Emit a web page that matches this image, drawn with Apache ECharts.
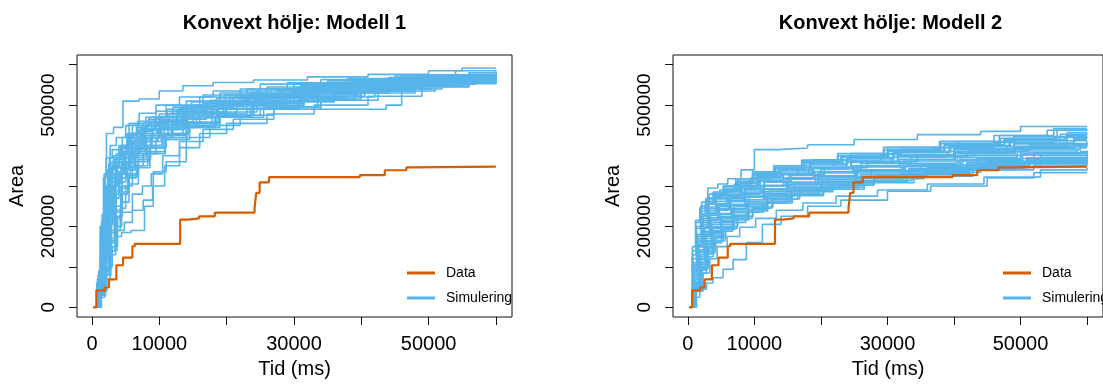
<!DOCTYPE html>
<html>
<head>
<meta charset="utf-8">
<script src="https://cdn.jsdelivr.net/npm/echarts@6/dist/echarts.min.js"></script>
<style>
  html, body { margin: 0; padding: 0; background: #fff; }
  #chart { width: 1103px; height: 385px; }
</style>
</head>
<body>
<div id="chart"></div>
<script>
// Observed convex-hull area over time, [time ms, area]
const observed = [
  [165, 0], [650, 42e3], [1890, 49e3], [2530, 69e3], [3620, 104e3], [4610, 123e3],
  [6000, 151e3], [6350, 157e3], [13100, 217e3], [14270, 220e3], [15900, 225e3],
  [18240, 234e3], [24150, 246e3], [24400, 283e3], [24900, 309e3], [26300, 322e3],
  [39800, 327e3], [43500, 339e3], [46700, 346e3], [47950, 348e3], [60000, 348e3]
];

// Simulated runs, model 1
const sims1 = [
  [[300,0],[800,45e3],[1300,180e3],[1800,330e3],[2150,430e3],[3200,445e3],[4600,510e3],[7000,515e3],[10000,535e3],[13500,548e3],[18000,556e3],[24000,562e3],[32000,570e3],[41000,576e3],[50000,585e3],[55000,592e3],[60000,592e3]],
  [[250,0],[900,60e3],[1500,150e3],[2100,260e3],[2700,360e3],[3600,380e3],[5200,430e3],[6800,460e3],[9500,485e3],[14000,510e3],[19000,530e3],[26000,545e3],[35000,560e3],[44000,568e3],[52000,575e3],[60000,575e3]],
  [[400,0],[1000,40e3],[1700,120e3],[2300,210e3],[3000,300e3],[3800,350e3],[5000,400e3],[7500,440e3],[10500,470e3],[15000,495e3],[21000,520e3],[28000,540e3],[36000,555e3],[47000,566e3],[56000,580e3],[60000,580e3]],
  [[350,0],[1100,70e3],[1600,190e3],[2000,290e3],[2600,370e3],[4200,395e3],[5500,455e3],[8000,470e3],[11000,500e3],[16500,525e3],[23000,540e3],[30000,555e3],[38000,565e3],[46000,572e3],[60000,578e3]],
  [[500,0],[1200,30e3],[2000,80e3],[2800,140e3],[3700,175e3],[4400,185e3],[5800,190e3],[7800,250e3],[9100,335e3],[11000,360e3],[14000,420e3],[17500,450e3],[22000,475e3],[27000,495e3],[34000,515e3],[40000,535e3],[48000,555e3],[55000,565e3],[60000,565e3]],
  [[300,0],[900,50e3],[1400,140e3],[2000,240e3],[2800,320e3],[3500,330e3],[4800,380e3],[6500,420e3],[9000,450e3],[12500,480e3],[17000,505e3],[24000,525e3],[31000,550e3],[39000,565e3],[49000,575e3],[60000,582e3]],
  [[450,0],[1000,35e3],[1600,100e3],[2400,170e3],[3300,240e3],[4300,300e3],[5300,345e3],[6500,380e3],[8000,400e3],[10500,430e3],[14500,455e3],[19000,475e3],[25000,490e3],[43700,500e3],[46000,540e3],[52000,560e3],[60000,565e3]],
  [[200,0],[700,60e3],[1200,200e3],[1700,320e3],[2100,370e3],[3000,390e3],[4500,420e3],[6000,450e3],[8500,470e3],[12000,495e3],[16000,520e3],[22000,540e3],[29000,555e3],[38000,566e3],[50000,575e3],[60000,580e3]],
  [[600,0],[1300,45e3],[2100,130e3],[2900,210e3],[3600,280e3],[4500,330e3],[5700,380e3],[7200,410e3],[9800,440e3],[13500,470e3],[18500,500e3],[24500,520e3],[31500,540e3],[40000,556e3],[51000,568e3],[60000,572e3]],
  [[350,0],[1000,90e3],[1500,230e3],[2000,330e3],[2700,400e3],[3600,420e3],[5000,450e3],[7000,480e3],[9500,500e3],[13000,520e3],[18000,535e3],[25000,552e3],[34000,563e3],[45000,572e3],[54000,585e3],[60000,588e3]],
  [[500,0],[1100,25e3],[1900,70e3],[2700,130e3],[3500,190e3],[4200,245e3],[5000,300e3],[6000,350e3],[7600,380e3],[9500,420e3],[12000,445e3],[15500,470e3],[20000,490e3],[27000,508e3],[36000,530e3],[44000,548e3],[53000,560e3],[60000,562e3]],
  [[300,0],[800,70e3],[1300,170e3],[1900,270e3],[2500,350e3],[3400,370e3],[4600,400e3],[6200,430e3],[8200,455e3],[11500,480e3],[15000,500e3],[20500,518e3],[27500,535e3],[35500,550e3],[43000,562e3],[51000,570e3],[60000,575e3]],
  [[250,0],[900,80e3],[1400,210e3],[1900,300e3],[2400,340e3],[3300,355e3],[4100,385e3],[5400,410e3],[7300,440e3],[10000,460e3],[13800,482e3],[19500,505e3],[26000,525e3],[33000,545e3],[42500,558e3],[52000,567e3],[60000,570e3]],
  [[550,0],[1300,60e3],[2000,150e3],[2600,230e3],[3300,290e3],[4000,320e3],[5100,360e3],[6800,395e3],[8900,420e3],[11800,455e3],[16000,480e3],[21500,500e3],[29000,520e3],[37000,538e3],[47000,550e3],[56000,558e3],[60000,560e3]],
  [[400,0],[1000,55e3],[1600,160e3],[2200,250e3],[2900,310e3],[3700,345e3],[4700,370e3],[6000,395e3],[7800,425e3],[10200,445e3],[14000,470e3],[18500,492e3],[24000,512e3],[32000,532e3],[40500,550e3],[49500,562e3],[58000,570e3],[60000,570e3]],
  [[300,0],[1000,40e3],[1500,110e3],[2100,190e3],[2800,260e3],[3500,310e3],[4400,345e3],[5600,385e3],[7000,415e3],[9000,440e3],[12800,465e3],[17000,490e3],[22500,510e3],[30000,530e3],[38500,546e3],[47500,558e3],[60000,565e3]],
  [[450,0],[1200,75e3],[1800,180e3],[2300,280e3],[3000,350e3],[4000,400e3],[5200,425e3],[6600,445e3],[8400,465e3],[11200,490e3],[14800,508e3],[19800,525e3],[26500,540e3],[34500,553e3],[44000,566e3],[55000,574e3],[60000,574e3]],
  [[350,0],[1000,30e3],[1700,90e3],[2500,160e3],[3400,220e3],[4300,280e3],[5300,320e3],[6600,350e3],[8300,385e3],[10800,415e3],[14500,445e3],[19000,470e3],[25500,495e3],[33500,520e3],[42000,540e3],[50500,555e3],[60000,560e3]],
  [[300,0],[900,65e3],[1400,170e3],[1900,260e3],[2600,330e3],[3700,360e3],[5000,395e3],[6700,435e3],[8800,460e3],[12000,485e3],[16500,505e3],[22000,522e3],[28500,538e3],[36500,552e3],[45500,563e3],[54000,572e3],[60000,576e3]],
  [[500,0],[1100,50e3],[1800,140e3],[2500,220e3],[3200,285e3],[4100,330e3],[5000,360e3],[6300,390e3],[8100,420e3],[10700,450e3],[14200,478e3],[18800,500e3],[25000,518e3],[33000,535e3],[42000,552e3],[52000,565e3],[60000,569e3]],
  [[400,0],[1200,50e3],[2000,120e3],[2800,190e3],[3800,225e3],[4500,235e3],[6000,280e3],[7500,300e3],[8800,330e3],[10500,375e3],[13000,410e3],[16500,440e3],[21000,465e3],[27000,490e3],[34000,512e3],[42500,535e3],[51000,553e3],[60000,560e3]],
  [[250,0],[700,40e3],[1200,120e3],[1700,220e3],[2200,300e3],[2900,345e3],[4000,370e3],[5500,420e3],[7200,440e3],[9400,470e3],[13000,492e3],[17500,512e3],[23500,530e3],[31000,548e3],[40000,560e3],[49000,570e3],[60000,583e3]],
  [[350,0],[1000,45e3],[1600,130e3],[2300,205e3],[3100,270e3],[4000,310e3],[5000,340e3],[6400,370e3],[8200,400e3],[10400,430e3],[13500,455e3],[17800,478e3],[23000,498e3],[30000,518e3],[38000,535e3],[46500,550e3],[55000,562e3],[60000,565e3]],
  [[600,0],[1400,70e3],[2000,180e3],[2600,270e3],[3300,325e3],[4400,360e3],[5800,405e3],[7400,430e3],[9600,458e3],[12600,480e3],[16800,498e3],[22500,515e3],[29500,533e3],[37500,548e3],[47000,560e3],[60000,568e3]],
  [[300,0],[900,55e3],[1500,150e3],[2100,235e3],[2800,295e3],[3600,330e3],[4700,355e3],[6100,385e3],[7900,410e3],[10300,440e3],[13700,468e3],[18000,490e3],[23800,508e3],[31000,527e3],[39500,545e3],[48500,558e3],[57000,570e3],[60000,570e3]],
  [[450,0],[1100,40e3],[1800,110e3],[2600,185e3],[3500,250e3],[4400,295e3],[5500,330e3],[6900,365e3],[8700,395e3],[11000,425e3],[14000,448e3],[18200,472e3],[23500,492e3],[30500,512e3],[39000,530e3],[48000,546e3],[56000,556e3],[60000,556e3]],
  [[350,0],[1000,80e3],[1500,200e3],[2000,300e3],[2500,355e3],[3200,375e3],[4300,400e3],[5700,430e3],[7500,455e3],[10000,478e3],[13500,498e3],[18500,518e3],[24500,535e3],[32000,550e3],[41000,563e3],[51000,573e3],[60000,578e3]],
  [[400,0],[1100,60e3],[1800,170e3],[2400,250e3],[3100,300e3],[3900,330e3],[4900,350e3],[6300,375e3],[8000,395e3],[10500,420e3],[14000,450e3],[18500,475e3],[24000,500e3],[31500,522e3],[40500,541e3],[50000,556e3],[60000,562e3]],
  [[500,0],[1300,40e3],[2200,100e3],[3000,150e3],[3800,190e3],[4800,210e3],[6000,240e3],[7600,265e3],[9000,300e3],[10800,350e3],[13000,395e3],[16000,430e3],[20000,455e3],[26000,478e3],[33000,500e3],[41000,522e3],[49000,545e3],[56000,555e3],[60000,557e3]],
  [[300,0],[850,70e3],[1350,180e3],[1850,280e3],[2350,340e3],[3200,365e3],[4400,395e3],[5900,420e3],[7700,448e3],[10100,472e3],[13600,492e3],[18000,510e3],[23500,528e3],[30500,545e3],[39500,558e3],[49500,567e3],[60000,572e3]],
  [[550,0],[1200,35e3],[2000,95e3],[2800,165e3],[3600,235e3],[4500,285e3],[5500,325e3],[6800,360e3],[8500,395e3],[10900,428e3],[14300,458e3],[18800,483e3],[24500,505e3],[31500,525e3],[40000,543e3],[49000,557e3],[60000,563e3]],
  [[250,0],[800,50e3],[1300,150e3],[1800,250e3],[2400,320e3],[3100,350e3],[4100,380e3],[5300,410e3],[7000,440e3],[9300,465e3],[12700,488e3],[17200,508e3],[23000,526e3],[30000,542e3],[38500,557e3],[48000,568e3],[56000,580e3],[60000,580e3]],
  [[400,0],[1000,30e3],[1700,80e3],[2500,140e3],[3400,200e3],[4400,260e3],[5500,305e3],[6900,345e3],[8600,380e3],[10900,415e3],[14100,445e3],[18300,470e3],[23800,492e3],[30800,515e3],[39000,536e3],[48000,552e3],[57000,563e3],[60000,563e3]],
  [[350,0],[950,60e3],[1500,165e3],[2050,255e3],[2700,320e3],[3500,350e3],[4600,375e3],[6000,410e3],[7900,438e3],[10400,462e3],[14000,485e3],[18700,505e3],[24500,524e3],[32000,540e3],[41000,555e3],[50500,566e3],[60000,571e3]],
  [[450,0],[1150,55e3],[1900,150e3],[2600,240e3],[3400,305e3],[4300,345e3],[5400,370e3],[6800,400e3],[8700,430e3],[11300,458e3],[15000,482e3],[19800,502e3],[26000,520e3],[33500,537e3],[42500,551e3],[52000,562e3],[60000,566e3]],
  [[300,0],[900,45e3],[1450,140e3],[2000,230e3],[2650,300e3],[3450,335e3],[4450,360e3],[5800,392e3],[7600,420e3],[10000,450e3],[13300,475e3],[17700,498e3],[23200,517e3],[30200,534e3],[38800,550e3],[48200,561e3],[57500,574e3],[60000,574e3]]
];

// Simulated runs, model 2
const sims2 = [
  [[300,0],[700,120e3],[1300,200e3],[2100,260e3],[3000,295e3],[4500,305e3],[6000,318e3],[8000,340e3],[10000,390e3],[13700,394e3],[18000,402e3],[25000,415e3],[34500,427e3],[44000,435e3],[50000,447e3],[60000,447e3]],
  [[400,0],[800,90e3],[1500,170e3],[2300,230e3],[3200,280e3],[4800,290e3],[7000,305e3],[9500,320e3],[13000,345e3],[17500,360e3],[23000,375e3],[30000,395e3],[38000,410e3],[46000,425e3],[54000,438e3],[60000,440e3]],
  [[350,0],[900,60e3],[1700,110e3],[2600,150e3],[3600,185e3],[5000,210e3],[6800,235e3],[9000,255e3],[12000,275e3],[16000,295e3],[21000,310e3],[28000,325e3],[36000,345e3],[45000,360e3],[53000,375e3],[60000,378e3]],
  [[500,0],[1000,25e3],[1800,45e3],[2800,60e3],[3800,73e3],[5300,94e3],[6800,118e3],[8800,160e3],[11200,205e3],[14000,225e3],[18000,250e3],[23000,265e3],[30000,287e3],[36500,300e3],[45000,320e3],[52000,333e3],[60000,333e3]],
  [[300,0],[750,100e3],[1400,180e3],[2000,230e3],[2600,255e3],[3800,270e3],[5200,285e3],[7000,300e3],[9300,318e3],[12500,330e3],[16500,345e3],[22000,362e3],[29000,378e3],[37000,395e3],[46000,408e3],[55000,420e3],[60000,422e3]],
  [[450,0],[1000,70e3],[1800,130e3],[2700,175e3],[3700,200e3],[5100,225e3],[6900,250e3],[9200,272e3],[12300,290e3],[16000,305e3],[21000,322e3],[27500,338e3],[35000,352e3],[43500,368e3],[52000,382e3],[60000,386e3]],
  [[350,0],[850,80e3],[1600,150e3],[2400,200e3],[3300,235e3],[4600,250e3],[6300,270e3],[8500,290e3],[11500,310e3],[15500,328e3],[20500,345e3],[27000,360e3],[34500,375e3],[43000,390e3],[51500,402e3],[60000,410e3]],
  [[600,0],[1200,45e3],[2100,95e3],[3000,135e3],[4100,165e3],[5600,195e3],[7400,220e3],[9700,245e3],[12600,268e3],[16500,288e3],[21500,305e3],[28000,322e3],[35500,340e3],[44000,355e3],[52500,368e3],[60000,372e3]],
  [[300,0],[700,140e3],[1200,210e3],[1900,250e3],[2800,270e3],[4000,282e3],[5600,300e3],[7600,318e3],[10200,335e3],[13800,350e3],[18500,365e3],[24500,380e3],[32000,395e3],[40500,410e3],[49000,422e3],[57000,432e3],[60000,432e3]],
  [[500,0],[1100,55e3],[2000,110e3],[2900,150e3],[3900,178e3],[5300,200e3],[7000,225e3],[9100,248e3],[11800,268e3],[15300,285e3],[19800,300e3],[25500,318e3],[32500,335e3],[41000,350e3],[50000,362e3],[60000,365e3]],
  [[400,0],[900,75e3],[1600,135e3],[2400,180e3],[3300,215e3],[4500,240e3],[6100,262e3],[8200,280e3],[10900,300e3],[14400,318e3],[18900,335e3],[24800,350e3],[31800,366e3],[40000,382e3],[49000,395e3],[58000,405e3],[60000,405e3]],
  [[350,0],[800,100e3],[1400,165e3],[2100,210e3],[3000,245e3],[4200,268e3],[5800,285e3],[7900,302e3],[10600,320e3],[14000,337e3],[18500,352e3],[24000,367e3],[31000,383e3],[39500,398e3],[48500,412e3],[57000,425e3],[60000,425e3]],
  [[550,0],[1100,40e3],[1900,85e3],[2800,125e3],[3800,160e3],[5100,188e3],[6700,210e3],[8700,235e3],[11300,258e3],[14800,278e3],[19300,296e3],[25000,312e3],[32000,330e3],[40000,346e3],[49000,360e3],[58000,370e3],[60000,370e3]],
  [[300,0],[750,110e3],[1300,175e3],[2000,220e3],[2900,255e3],[4000,275e3],[5500,290e3],[7400,310e3],[9900,328e3],[13200,344e3],[17500,358e3],[23000,372e3],[30000,388e3],[38500,402e3],[47500,415e3],[56000,428e3],[60000,430e3]],
  [[450,0],[1000,60e3],[1800,120e3],[2700,165e3],[3700,195e3],[5000,220e3],[6600,242e3],[8700,262e3],[11400,282e3],[15000,300e3],[19500,316e3],[25300,332e3],[32500,348e3],[41000,362e3],[50000,376e3],[60000,380e3]],
  [[400,0],[950,85e3],[1700,150e3],[2500,195e3],[3400,228e3],[4700,252e3],[6400,272e3],[8600,292e3],[11500,310e3],[15200,326e3],[20000,342e3],[26000,356e3],[33500,372e3],[42000,386e3],[51000,398e3],[60000,400e3]],
  [[500,0],[1050,50e3],[1900,100e3],[2800,140e3],[3800,172e3],[5200,198e3],[6900,220e3],[9000,242e3],[11700,262e3],[15300,280e3],[19800,296e3],[25700,312e3],[33000,328e3],[41500,343e3],[50500,356e3],[60000,360e3]],
  [[350,0],[850,95e3],[1500,160e3],[2200,205e3],[3100,240e3],[4300,262e3],[5900,280e3],[8000,298e3],[10700,315e3],[14200,332e3],[18700,347e3],[24500,362e3],[31500,378e3],[40000,393e3],[49000,406e3],[58000,418e3],[60000,418e3]],
  [[600,0],[1200,50e3],[2100,100e3],[3100,145e3],[4200,175e3],[5700,200e3],[7500,225e3],[9800,248e3],[12800,268e3],[16800,286e3],[21800,302e3],[28000,318e3],[35500,334e3],[44000,348e3],[53000,360e3],[60000,362e3]],
  [[300,0],[700,130e3],[1250,195e3],[1900,238e3],[2800,262e3],[3900,278e3],[5400,295e3],[7300,312e3],[9800,330e3],[13000,346e3],[17200,360e3],[22600,375e3],[29500,390e3],[38000,405e3],[47000,418e3],[55500,438e3],[60000,438e3]],
  [[450,0],[1000,65e3],[1800,125e3],[2600,170e3],[3600,205e3],[4900,230e3],[6500,252e3],[8600,272e3],[11300,292e3],[14800,310e3],[19200,325e3],[25000,340e3],[32000,356e3],[40500,371e3],[49500,384e3],[58500,394e3],[60000,394e3]],
  [[400,0],[900,70e3],[1700,130e3],[2500,178e3],[3500,210e3],[4800,232e3],[6500,255e3],[8700,275e3],[11500,293e3],[15000,308e3],[19500,323e3],[25200,338e3],[32300,352e3],[40800,366e3],[50000,380e3],[60000,388e3]],
  [[550,0],[1150,45e3],[2000,92e3],[2900,132e3],[3900,165e3],[5300,192e3],[7000,216e3],[9200,238e3],[12000,258e3],[15700,276e3],[20400,292e3],[26500,308e3],[34000,324e3],[42800,340e3],[52000,352e3],[60000,355e3]],
  [[350,0],[800,105e3],[1450,170e3],[2150,215e3],[3050,248e3],[4250,270e3],[5850,288e3],[7900,306e3],[10500,324e3],[13900,340e3],[18300,355e3],[23900,370e3],[30800,385e3],[39300,400e3],[48300,414e3],[57000,426e3],[60000,426e3]],
  [[500,0],[1050,55e3],[1850,110e3],[2750,155e3],[3750,188e3],[5100,212e3],[6800,234e3],[9000,254e3],[11800,274e3],[15400,292e3],[20000,308e3],[26000,324e3],[33300,340e3],[42000,354e3],[51000,367e3],[60000,372e3]],
  [[300,0],[750,90e3],[1400,155e3],[2100,200e3],[3000,232e3],[4200,255e3],[5800,275e3],[7800,294e3],[10400,312e3],[13800,328e3],[18200,343e3],[23800,358e3],[30700,372e3],[39000,386e3],[48000,398e3],[57000,412e3],[60000,412e3]],
  [[600,0],[1300,40e3],[2300,85e3],[3300,120e3],[4400,150e3],[5900,175e3],[7800,198e3],[10200,220e3],[13300,240e3],[17300,258e3],[22300,275e3],[28500,290e3],[36000,305e3],[44500,322e3],[53000,340e3],[60000,345e3]],
  [[400,0],[900,80e3],[1650,142e3],[2450,188e3],[3400,222e3],[4650,245e3],[6300,265e3],[8450,285e3],[11200,302e3],[14700,320e3],[19100,336e3],[24800,350e3],[31800,365e3],[40200,380e3],[49200,392e3],[58200,402e3],[60000,402e3]],
  [[450,0],[1000,62e3],[1750,118e3],[2600,162e3],[3600,198e3],[4950,222e3],[6600,245e3],[8800,266e3],[11600,286e3],[15200,304e3],[19700,320e3],[25500,336e3],[32700,350e3],[41300,364e3],[50300,376e3],[59000,385e3],[60000,385e3]],
  [[350,0],[800,110e3],[1350,180e3],[2050,226e3],[2950,258e3],[4100,276e3],[5650,292e3],[7650,310e3],[10200,326e3],[13500,342e3],[17800,356e3],[23300,371e3],[30200,386e3],[38600,400e3],[47600,412e3],[56600,422e3],[60000,422e3]],
  [[550,0],[1100,48e3],[1950,98e3],[2850,140e3],[3850,172e3],[5250,196e3],[6950,220e3],[9150,242e3],[11950,262e3],[15600,280e3],[20300,297e3],[26300,313e3],[33700,330e3],[42400,345e3],[51400,358e3],[60000,364e3]],
  [[300,0],[700,150e3],[1150,215e3],[1800,245e3],[2700,268e3],[3800,285e3],[5300,300e3],[7200,318e3],[9700,335e3],[12900,350e3],[17100,364e3],[22500,380e3],[29400,396e3],[37800,410e3],[46800,425e3],[55000,442e3],[60000,442e3]],
  [[500,0],[1000,58e3],[1800,112e3],[2700,158e3],[3700,190e3],[5050,215e3],[6750,238e3],[8950,258e3],[11750,278e3],[15350,296e3],[19950,312e3],[25900,328e3],[33200,343e3],[41900,358e3],[50900,370e3],[60000,376e3]],
  [[400,0],[950,78e3],[1700,138e3],[2500,184e3],[3450,218e3],[4750,242e3],[6450,262e3],[8650,282e3],[11450,300e3],[15000,317e3],[19500,332e3],[25300,347e3],[32400,362e3],[41000,376e3],[50000,389e3],[59000,398e3],[60000,398e3]],
  [[450,0],[1050,52e3],[1850,105e3],[2750,148e3],[3750,182e3],[5150,205e3],[6850,228e3],[9050,250e3],[11850,270e3],[15500,288e3],[20100,304e3],[26100,320e3],[33500,336e3],[42200,350e3],[51200,364e3],[60000,368e3]],
  [[350,0],[850,88e3],[1550,152e3],[2300,198e3],[3200,232e3],[4450,256e3],[6100,276e3],[8200,295e3],[10900,313e3],[14400,330e3],[18900,345e3],[24600,360e3],[31600,376e3],[40000,390e3],[49000,404e3],[58000,414e3],[60000,414e3]]
];

const panelTitles = ['Konvext hölje: Modell 1', 'Konvext hölje: Modell 2'];
const seriesNames = ['Data', 'Simulering'];
const xTicks = [0, 10000, 20000, 30000, 40000, 50000, 60000];
const xTickLabels = [0, 10000, 30000, 50000];
const yTicks = [0, 100000, 200000, 300000, 400000, 500000, 600000];
const yTickLabels = [0, 200000, 500000];
const xLimits = [165, 60000];
const yLimits = [0, 600000];

const FONT = '"Liberation Sans", Arial, Helvetica, sans-serif';
const BLUE = '#56B4E9';
const ORANGE = '#D55E00';

// 4% padding on each side of the data range
function padded(lim) {
  const r = lim[1] - lim[0];
  return [lim[0] - 0.04 * r, lim[1] + 0.04 * r];
}
const xr = padded(xLimits);
const yr = padded(yLimits);

const panelLeft = [77, 673];
const gridTop = 55, gridW = 435, gridH = 262;

const grids = [], xAxes = [], yAxes = [], titles = [], legends = [], series = [];

panelLeft.forEach((left, i) => {
  grids.push({
    left: left, top: gridTop, width: gridW, height: gridH,
    show: true, borderColor: '#111', borderWidth: 1, backgroundColor: 'transparent'
  });
  xAxes.push({
    gridIndex: i, type: 'value', min: xr[0], max: xr[1],
    name: 'Tid (ms)', nameLocation: 'middle', nameGap: 42,
    nameTextStyle: { fontFamily: FONT, fontSize: 20, color: '#000' },
    axisLine: { show: false, onZero: false },
    axisTick: { show: true, length: 8, customValues: xTicks, lineStyle: { color: '#111', width: 1 } },
    axisLabel: { customValues: xTickLabels, margin: 17, fontFamily: FONT, fontSize: 20, color: '#000',
                 formatter: v => String(v) },
    splitLine: { show: false }
  });
  yAxes.push({
    gridIndex: i, type: 'value', min: yr[0], max: yr[1],
    name: 'Area', nameLocation: 'middle', nameGap: 50,
    nameTextStyle: { fontFamily: FONT, fontSize: 20, color: '#000' },
    axisLine: { show: false, onZero: false },
    axisTick: { show: true, length: 8, customValues: yTicks, lineStyle: { color: '#111', width: 1 } },
    axisLabel: { customValues: yTickLabels, rotate: 90, margin: 19, fontFamily: FONT, fontSize: 19, color: '#000',
                 formatter: v => String(v) },
    splitLine: { show: false }
  });
  titles.push({
    text: panelTitles[i], left: left + gridW / 2, top: 13, textAlign: 'center', padding: 0,
    textStyle: { fontFamily: FONT, fontSize: 20, fontWeight: 'bold', color: '#000' }
  });
  legends.push({
    data: seriesNames, orient: 'vertical', left: left + 325, top: 260,
    icon: 'rect', itemWidth: 28, itemHeight: 3, itemGap: 9, selectedMode: false,
    textStyle: { fontFamily: FONT, fontSize: 14, lineHeight: 16, color: '#000', padding: [0, 0, 0, 6] }
  });

  const sims = i === 0 ? sims1 : sims2;
  sims.forEach(run => {
    series.push({
      name: 'Simulering', type: 'line', step: 'end', data: run,
      xAxisIndex: i, yAxisIndex: i, symbol: 'none', silent: true,
      color: BLUE, lineStyle: { color: BLUE, width: 1.6 }, z: 2
    });
  });
  series.push({
    name: 'Data', type: 'line', step: 'end', data: observed,
    xAxisIndex: i, yAxisIndex: i, symbol: 'none', silent: true,
    color: ORANGE, lineStyle: { color: ORANGE, width: 2.2 }, z: 3
  });
});

const chart = echarts.init(document.getElementById('chart'), null, { renderer: 'canvas' });
chart.setOption({
  animation: false,
  backgroundColor: '#fff',
  title: titles,
  legend: legends,
  grid: grids,
  xAxis: xAxes,
  yAxis: yAxes,
  series: series
});
</script>
</body>
</html>
